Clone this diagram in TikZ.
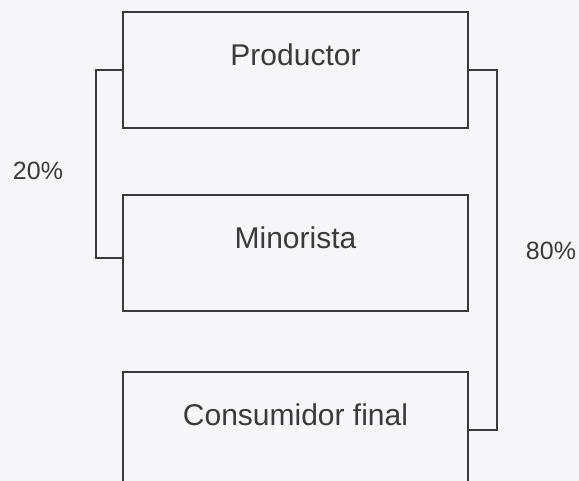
\documentclass[tikz,border=0pt]{standalone}
\usepackage{fontspec}
\setmainfont{Liberation Sans}
\usetikzlibrary{positioning}

\definecolor{ink}{HTML}{3A3A3A}
\definecolor{paper}{HTML}{F6F6F9}

\begin{document}
\begin{tikzpicture}[x=0.5pt,y=-0.5pt,
	box/.style={draw=ink,line width=1pt,fill=paper,minimum width=172.5pt,minimum height=58pt,
		text=ink,font=\fontsize{15}{18}\selectfont,text height=11pt,text depth=15.2pt,inner sep=0pt},
	link/.style={draw=ink,line width=1pt},
	pct/.style={text=ink,font=\fontsize{12.5}{15}\selectfont}]
	\clip (0,0) rectangle (579,481);
	\fill[paper] (0,0) rectangle (579,481);
	% boxes
	\node[box] (prod) at (295.5,70) {Productor};
	\node[box,below=32.5pt of prod] (mino) {Minorista};
	\node[box,below=29.5pt of mino] (cons) {Consumidor final};
	% links
	\draw[link] (prod.west) -- ++(-13pt,0) |- ([yshift=-2.5pt]mino.west);
	\draw[link] (prod.east) -- ++(14pt,0) |- (cons.east);
	% shares
	\node[pct] (left) at (38,171) {20\%};
	\node[pct] (right) at (551,251) {80\%};
\end{tikzpicture}
\end{document}
